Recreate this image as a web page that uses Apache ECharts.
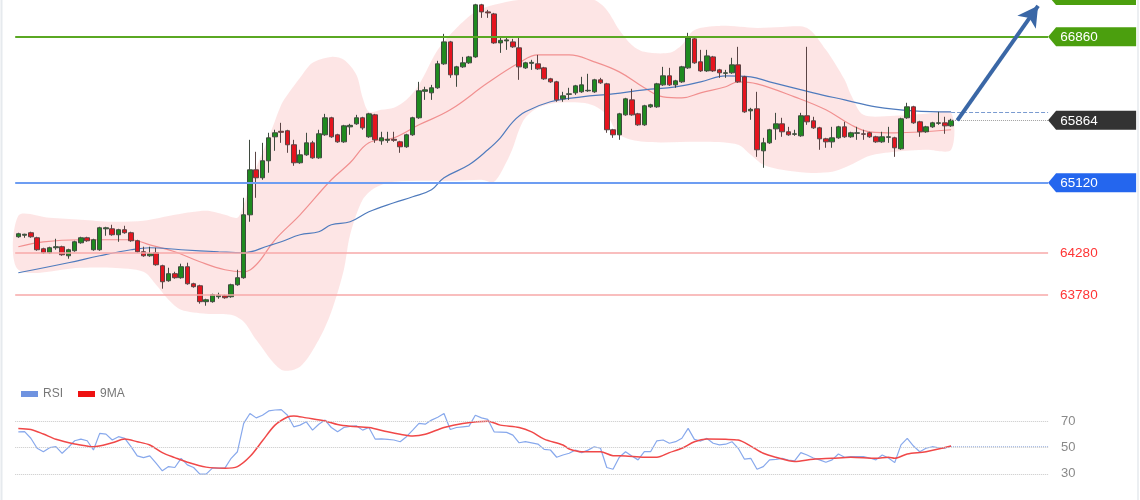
<!DOCTYPE html>
<html><head><meta charset="utf-8">
<script src="https://cdn.jsdelivr.net/npm/echarts@6/dist/echarts.min.js"></script>
<style>html,body{margin:0;padding:0;background:#fff}#c{width:1140px;height:500px}</style>
</head><body><div id="c"></div>
<script>
// [open, close, low, high]
const ohlc = [
[64474,64510,64462,64522],[64492,64504,64462,64510],[64522,64474,64462,64534],[64462,64319,64307,64474],[64331,64283,64271,64343],
[64283,64343,64271,64355],[64343,64355,64319,64450],[64355,64259,64247,64367],[64247,64319,64212,64331],[64307,64414,64295,64426],
[64402,64462,64391,64474],[64462,64426,64414,64474],[64319,64438,64307,64450],[64319,64581,64307,64593],[64569,64581,64486,64593],
[64569,64498,64486,64617],[64498,64558,64414,64569],[64558,64522,64510,64605],[64522,64426,64414,64534],[64426,64295,64283,64438],
[64295,64247,64235,64355],[64247,64271,64235,64355],[64283,64140,64128,64343],[64128,63937,63854,64140],[63949,64033,63937,64104],
[64033,63985,63973,64056],[63985,64116,63973,64152],[64116,63913,63901,64164],[63913,63878,63866,63925],[63889,63699,63675,63901],
[63699,63722,63651,63734],[63699,63782,63687,63794],[63758,63776,63734,63806],[63770,63746,63734,63782],[63758,63901,63746,63913],
[63901,63985,63889,64080],[63985,64736,63973,64939],[64736,65273,64653,65631],[65273,65178,64939,65488],[65178,65381,65154,65595],
[65381,65655,65238,65715],[65667,65715,65500,65751],[65733,65721,65595,65834],[65739,65572,65476,65751],[65572,65357,65321,65631],
[65357,65452,65345,65512],[65452,65595,65440,65715],[65595,65416,65405,65619],[65416,65703,65405,65751],[65691,65894,65679,65941],
[65894,65667,65655,65906],[65691,65607,65595,65703],[65607,65798,65595,65810],[65786,65804,65691,65822],[65822,65894,65810,65929],
[65894,65774,65751,65906],[65667,65941,65655,65953],[65929,65631,65595,65941],[65619,65655,65572,65727],[65625,65637,65595,65727],
[65637,65625,65607,65727],[65607,65548,65476,65619],[65548,65691,65536,65703],[65691,65894,65679,65906],[65894,66216,65882,66323],
[66210,66228,66108,66264],[66192,66252,66108,66287],[66252,66538,66240,66574],[66538,66800,66526,66896],[66800,66407,66371,66812],
[66407,66502,66264,66514],[66502,66550,66490,66621],[66550,66621,66538,66633],[66621,67242,66610,67254],[67242,67158,67087,67254],
[67158,67146,67087,67182],[67134,66788,66777,67146],[66788,66818,66669,66848],[66812,66824,66705,66860],[66800,66741,66729,66836],
[66729,66502,66347,66848],[66490,66550,66478,66562],[66544,66556,66466,66586],[66538,66478,66466,66645],[66490,66359,66347,66502],
[66359,66323,66311,66371],[66323,66108,66085,66335],[66120,66156,66085,66204],[66174,66180,66108,66252],[66192,66275,66168,66287],
[66204,66287,66192,66383],[66216,66222,66204,66419],[66204,66347,66192,66359],[66347,66311,66299,66371],[66299,65751,65715,66311],
[65751,65691,65655,65762],[65691,65941,65631,65953],[65929,66120,65918,66132],[66108,65929,65918,66240],[65941,65810,65798,65953],
[65810,66037,65798,66049],[66025,66049,66013,66061],[66025,66299,66013,66311],[66287,66395,66275,66502],[66395,66287,66275,66490],
[66287,66335,66252,66347],[66323,66502,66311,66514],[66490,66848,66478,66908],[66836,66550,66538,66848],[66562,66454,66442,66705],
[66454,66633,66442,66705],[66621,66454,66442,66633],[66466,66431,66371,66478],[66425,66431,66371,66466],[66431,66526,66419,66610],
[66526,66323,66311,66741],[66383,65965,65953,66395],[65977,65995,65870,66013],[66001,65512,65428,66204],[65500,65595,65297,65655],
[65595,65751,65583,65762],[65762,65822,65631,65953],[65822,65727,65667,65894],[65727,65691,65679,65786],[65697,65703,65679,65751],
[65679,65918,65667,65953],[65918,65846,65810,66741],[65858,65774,65762,65906],[65774,65643,65512,65786],[65643,65607,65536,65655],
[65607,65655,65536,65786],[65655,65786,65643,65798],[65786,65667,65655,65846],[65667,65715,65655,65727],[65709,65715,65631,65786],
[65703,65697,65631,65751],[65715,65667,65655,65727],[65667,65607,65595,65679],[65607,65667,65595,65727],[65661,65667,65595,65786],
[65655,65536,65428,65667],[65524,65882,65512,65894],[65894,66025,65882,66073],[66025,65834,65822,66037],[65846,65727,65667,65858],
[65727,65786,65715,65798],[65786,65834,65774,65846],[65828,65834,65810,65965],[65834,65798,65703,65906],[65798,65864,65786,65882]
];
const futureSlots = 15;

// Bollinger band edges [candle index, price]
const bandUpper = [[0,64725],[5,64701],[10,64677],[15,64653],[20,64665],[25,64736],[30,64784],[33,64736],[35,64701],[36,64856],
[37,65094],[38,65297],[40,65655],[42,66049],[43,66168],[45,66371],[47,66550],[50,66621],[52,66586],[54,66407],[55,66132],[56,65965],
[58,65989],[60,66013],[62,66108],[64,66287],[67,66705],[70,66967],[73,67158],[76,67242],[80,67301],[88,67337],[92,67301],[94,67182],
[96,66943],[98,66764],[100,66681],[104,66669],[106,66764],[108,66943],[112,66991],[118,66967],[122,66979],[126,66967],[129,66705],
[132,66347],[133,66168],[135,65929],[140,65918],[145,65941],[149,65953]];
const bandLower = [[0,64080],[10,64104],[15,64104],[20,64056],[22,63901],[24,63722],[26,63603],[30,63555],[34,63543],[36,63460],
[38,63245],[42,62887],[45,62923],[48,63245],[50,63579],[52,64080],[53,64498],[55,64915],[57,65059],[60,65130],[70,65142],[74,65154],
[76,65130],[78,65369],[79,65536],[80,65751],[81,65894],[83,66013],[86,66073],[90,66073],[92,66037],[94,65929],[96,65691],[100,65607],
[110,65607],[115,65572],[117,65452],[119,65333],[122,65273],[126,65238],[130,65249],[133,65333],[136,65440],[140,65488],[145,65512],[149,65512]];
const maFast = [[0,64355],[4,64414],[10,64438],[18,64438],[21,64378],[25,64295],[29,64176],[33,64080],[36,64056],[38,64140],[41,64438],
[45,64736],[50,65154],[53,65357],[56,65595],[60,65655],[64,65810],[69,65989],[75,66311],[80,66550],[83,66645],[88,66645],[92,66562],
[96,66442],[100,66252],[103,66144],[106,66132],[109,66192],[113,66264],[115,66323],[118,66299],[124,66144],[129,65989],[133,65810],
[136,65727],[140,65715],[149,65751]];
const maSlow = [[0,64044],[8,64164],[13,64247],[18,64319],[21,64343],[26,64319],[32,64295],[36,64283],[40,64367],[42,64414],[45,64498],
[48,64534],[50,64617],[53,64653],[56,64772],[60,64880],[63,64951],[66,65035],[68,65178],[72,65333],[75,65512],[77,65655],[79,65846],
[81,65965],[85,66085],[90,66144],[95,66180],[100,66228],[105,66264],[109,66323],[113,66395],[117,66383],[120,66323],[127,66192],
[132,66108],[137,66025],[143,65977],[149,65965]];

const levelValues = [66860, 65120, 64280, 63780];
const lastPrice = 65864;
const lastSlowMA = 65965;
const arrowFrom = [150, 65864];
const arrowTo = [162.9, 67230];

const rsiValues = [61.9,62,57,49.4,46.8,49.9,50.6,45.6,50.1,55.1,56.4,55.1,48.1,60.7,60.2,55.7,58.2,56.9,50.6,43.6,
42.3,43.6,38.1,32.3,35.5,34.8,41.8,36.8,34.8,29.8,29.8,34.3,34.3,34.3,41.8,46.8,68.3,75.8,72.5,74.5,
77.8,78.5,78.8,74.5,65.7,67,69.5,63.2,67.7,70.8,65.2,61.9,65.2,66,66.5,63.2,65.2,56.4,56.5,56.2,
55.7,54.4,58.2,63.2,68.3,67.7,70.8,73,75.8,63.7,65.2,65.7,66.2,74.5,72.5,71.3,61.9,61.7,61.5,59.4,
53.6,54.4,53.5,52.6,48.6,48.1,42.6,44.3,45.6,48.1,46.1,48,50.6,49.4,34.8,33.5,42.6,46.8,43.6,40.6,
46.8,46.8,55.1,55.7,53.2,54.4,57,64.5,56.2,54.9,56.9,53.2,52,52.5,54.4,49.4,41.1,41.8,33.5,35.5,
40.6,41,41.8,40.5,39.8,46.1,44.3,42,40.6,38.8,40.6,45.1,42.6,43.1,43.1,43.1,42,40.6,44.3,42,
38.5,52,56.9,51.1,46.8,49.4,50.6,49.8,49.5,51.1];
const rsiMA9 = [[0,64.5],[2,63.7],[4,60.2],[6,56.2],[9,52.6],[11,51.1],[12,50.6],[15,53.6],[17,56.4],[19,54.4],[21,51.9],[23,46.1],
[25,42.3],[27,38.8],[30,35.1],[33,34.3],[35,35.5],[37,43.1],[39,55.1],[41,67],[43,73.2],[44,74],[46,72.5],[49,70.2],[51,67.5],
[53,66.2],[56,65.2],[59,61.9],[61,60],[63,58.7],[65,60],[68,65.2],[71,68.3],[75,70],[77,67],[80,65.2],[82,61.9],[84,56.4],[87,51.9],
[88,48.9],[90,46.8],[93,46.8],[95,43.8],[97,43.6],[100,42.6],[102,42.6],[104,46.1],[106,49.4],[108,54.4],[110,56.4],[113,56.2],
[115,55.7],[117,51.1],[119,45.6],[121,42.6],[124,39.3],[127,41.1],[130,41.8],[133,42.6],[137,41.8],[139,42.6],[140,41.8],[142,45.1],
[145,46.8],[149,51.1]];
const rsiLevels = [70, 50, 30];

const nSlots = ohlc.length + futureSlots;
const categories = ohlc.map((_, i) => 'C' + (i + 1)).concat(Array.from({length: futureSlots}, (_, i) => 'F' + (i + 1)));
const FONT = 'Liberation Sans, Arial, sans-serif';
const GL = 15.2, GW = 1032.9;
const TAG_PATH = 'path://M8,0L88,0L88,19L8,19L0,9.5Z';

const tagPoint = (value, bg, txt) => ({
  coord: [nSlots - 0.5, value], symbol: TAG_PATH, symbolSize: [88, 19], symbolOffset: [44, 0], symbolKeepAspect: false,
  itemStyle: {color: bg},
  label: {show: true, position: 'inside', formatter: txt, color: '#fff', fontSize: 13.5, fontFamily: FONT, offset: [-13, 0.5]}
});
const redLbl = (txt) => ({ show: true, position: 'end', distance: 12, formatter: txt, color: '#ff3535', fontSize: 13.5, fontFamily: FONT });

const chart = echarts.init(document.getElementById('c'), null, {renderer: 'canvas'});
chart.setOption({
  animation: false,
  backgroundColor: '#fff',
  grid: [
    {left: GL, top: 0, width: GW, height: 377, outerBoundsMode: 'none'},
    {left: GL, top: 408, width: GW, height: 79, outerBoundsMode: 'none'}
  ],
  xAxis: [
    {type: 'category', gridIndex: 0, data: categories, boundaryGap: true, show: false},
    {type: 'value', gridIndex: 0, min: -0.5, max: nSlots - 0.5, show: false},
    {type: 'value', gridIndex: 1, min: -0.5, max: nSlots - 0.5, show: false}
  ],
  yAxis: [
    {type: 'value', gridIndex: 0, min: 62800, max: 67300, show: false},
    {type: 'value', gridIndex: 1, min: 20, max: 80, show: false}
  ],
  legend: {
    data: ['RSI', '9MA'], left: 16, top: 383, icon: 'rect', itemWidth: 17, itemHeight: 6, itemGap: 15,
    textStyle: {color: '#777', fontSize: 12, fontFamily: FONT}, selectedMode: false
  },
  graphic: [
    // partially visible upper target tag, cut off by the top edge of the picture
    {type: 'polygon', shape: {points: [[1048, -4.5], [1056, -14], [1136, -14], [1136, 5], [1056, 5]]}, style: {fill: '#4b9f0e'}, z: 10},
    {type: 'line', shape: {x1: 1.5, y1: 0, x2: 1.5, y2: 500}, style: {stroke: '#e6eaee', lineWidth: 2}},
    {type: 'line', shape: {x1: 1138, y1: 0, x2: 1138, y2: 500}, style: {stroke: '#eceff2', lineWidth: 2}}
  ],
  series: [
    {
      type: 'custom', name: 'band', xAxisIndex: 1, yAxisIndex: 0, z: 1, silent: true, clip: false,
      data: [[0, bandUpper[0][1]]],
      renderItem: function (params, api) {
        const pts = bandUpper.map(p => api.coord(p)).concat(bandLower.slice().reverse().map(p => api.coord(p)));
        return {type: 'polygon', shape: {points: pts, smooth: 0.3}, style: {fill: 'rgba(248,150,150,0.25)'}};
      }
    },
    {type: 'line', name: 'maFast', xAxisIndex: 1, yAxisIndex: 0, data: maFast, smooth: 0.4, showSymbol: false, silent: true,
      lineStyle: {color: '#f19090', width: 1.2}, z: 2},
    {type: 'line', name: 'maSlow', xAxisIndex: 1, yAxisIndex: 0, data: maSlow, smooth: 0.4, showSymbol: false, silent: true,
      lineStyle: {color: '#4f7bbd', width: 1.2}, z: 2,
      markLine: {silent: true, symbol: 'none', label: {show: false},
        lineStyle: {type: 'dashed', color: '#7a9bd0', width: 1},
        data: [[{coord: [ohlc.length - 1, lastSlowMA]}, {coord: [nSlots - 0.5, lastSlowMA]}]]}
    },
    {
      type: 'candlestick', name: 'price', xAxisIndex: 0, yAxisIndex: 0, data: ohlc, barWidth: 5, z: 3, silent: true,
      itemStyle: {color: '#1f8a1f', color0: '#e5141e', borderColor: '#3f4a3f', borderColor0: '#5a4444', borderWidth: 1}
    },
    {
      type: 'line', name: 'levels', xAxisIndex: 1, yAxisIndex: 0, data: [[ohlc.length - 1, lastPrice]], showSymbol: false, z: 4, silent: true,
      lineStyle: {opacity: 0},
      markLine: {
        silent: true, symbol: 'none', label: {show: false},
        data: [
          {yAxis: levelValues[0], lineStyle: {color: '#5aa823', width: 2, type: 'solid'}},
          {yAxis: levelValues[1], lineStyle: {color: '#6d9df2', width: 2, type: 'solid'}},
          {yAxis: levelValues[2], lineStyle: {color: '#f7a8a8', width: 1.6, type: 'solid'}, label: redLbl(String(levelValues[2]))},
          {yAxis: levelValues[3], lineStyle: {color: '#f7a8a8', width: 1.6, type: 'solid'}, label: redLbl(String(levelValues[3]))},
          [{coord: [ohlc.length - 1, lastPrice], lineStyle: {color: '#a0a0a0', width: 1, type: 'dotted'}},
           {coord: [nSlots - 0.5, lastPrice]}]
        ]
      },
      markPoint: {
        silent: true,
        data: [
          tagPoint(levelValues[0], '#4b9f0e', String(levelValues[0])),
          tagPoint(levelValues[1], '#2466ee', String(levelValues[1])),
          tagPoint(lastPrice, '#333333', String(lastPrice))
        ]
      }
    },
    {
      type: 'line', name: 'arrow', xAxisIndex: 1, yAxisIndex: 0, data: [arrowFrom], showSymbol: false, z: 6, silent: true,
      lineStyle: {opacity: 0},
      markLine: {
        silent: true, symbol: ['none', 'arrow'], symbolSize: [17, 20], label: {show: false},
        lineStyle: {color: '#3a67a6', width: 4, type: 'solid'},
        data: [[{coord: arrowFrom}, {coord: arrowTo}]]
      }
    },
    {
      type: 'line', name: 'RSI', xAxisIndex: 2, yAxisIndex: 1, data: rsiValues.map((v, i) => [i, v]), showSymbol: false, silent: true,
      lineStyle: {color: '#87a8ec', width: 1.2}, itemStyle: {color: '#6f93e0'}, z: 3,
      markLine: {
        silent: true, symbol: 'none',
        lineStyle: {type: 'dotted', color: '#c8c8c8', width: 1},
        label: {show: true, position: 'end', distance: 13, color: '#8a8a8a', fontSize: 13, fontFamily: FONT},
        data: rsiLevels.map(v => ({yAxis: v, label: {formatter: String(v)}})).concat([
          [{coord: [ohlc.length - 1, rsiValues[rsiValues.length - 1]], lineStyle: {color: '#a9bde6', type: 'dotted', width: 1}, label: {show: false}},
           {coord: [nSlots - 0.5, rsiValues[rsiValues.length - 1]]}]
        ])
      }
    },
    {
      type: 'line', name: '9MA', xAxisIndex: 2, yAxisIndex: 1, data: rsiMA9, smooth: 0.3, showSymbol: false, silent: true,
      lineStyle: {color: '#f04848', width: 1.5}, itemStyle: {color: '#ee1111'}, z: 4
    }
  ]
});
</script></body></html>
